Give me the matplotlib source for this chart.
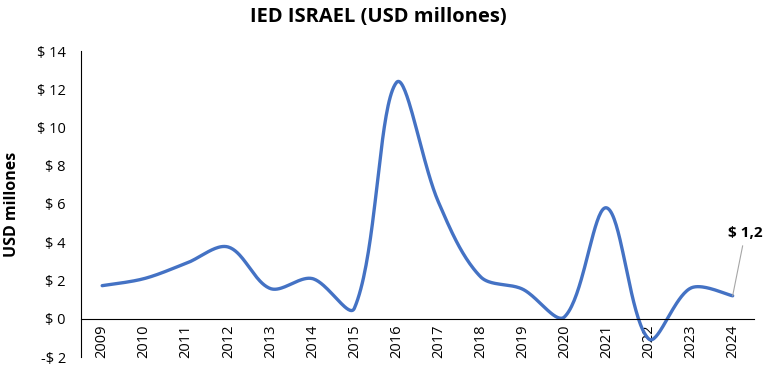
import matplotlib
matplotlib.use("Agg")
import matplotlib.pyplot as plt
import numpy as np

plt.rcParams['font.family'] = ['Open Sans', 'DejaVu Sans']

# IED Israel, USD millones
years = ["2009", "2010", "2011", "2012", "2013", "2014", "2015", "2016",
         "2017", "2018", "2019", "2020", "2021", "2022", "2023", "2024"]
ied = [1.73, 2.1, 2.9, 3.75, 1.58, 2.1, 0.55, 12.35,
       6.1, 2.2, 1.55, 0.1, 5.8, -1.05, 1.6, 1.2]
yticks = [-2, 0, 2, 4, 6, 8, 10, 12, 14]


def smooth(xs, ys, sx=42.0, sy=19.1, n=40):
    # Excel-like smoothed line: bezier with tangents scaled by segment length
    xs = np.asarray(xs, float)
    ys = np.asarray(ys, float)
    m = len(xs)
    d = np.hypot(np.diff(xs) * sx, np.diff(ys) * sy)
    cin, cout = [], []
    for i in range(m):
        a = max(i - 1, 0)
        b = min(i + 1, m - 1)
        tx, ty = xs[b] - xs[a], ys[b] - ys[a]
        dl = d[i - 1] if i > 0 else 0.0
        dr = d[i] if i < m - 1 else 0.0
        tot = dl + dr if dl + dr > 0 else 1.0
        if i == 0 or i == m - 1:
            fl = fr = 1 / 6
        else:
            fl, fr = dl / tot / 3, dr / tot / 3
        cin.append((xs[i] - tx * fl, ys[i] - ty * fl))
        cout.append((xs[i] + tx * fr, ys[i] + ty * fr))
    t = np.linspace(0, 1, n)
    ox, oy = [], []
    for i in range(m - 1):
        x0, y0 = xs[i], ys[i]
        x1, y1 = cout[i]
        x2, y2 = cin[i + 1]
        x3, y3 = xs[i + 1], ys[i + 1]
        ox.extend((1-t)**3*x0 + 3*(1-t)**2*t*x1 + 3*(1-t)*t**2*x2 + t**3*x3)
        oy.extend((1-t)**3*y0 + 3*(1-t)**2*t*y1 + 3*(1-t)*t**2*y2 + t**3*y3)
    return ox, oy


fig = plt.figure(figsize=(7.73, 3.75), dpi=100)
ax = fig.add_axes([0.105, 0.048, 0.87, 0.816])

ax.spines['top'].set_visible(False)
ax.spines['right'].set_visible(False)
ax.spines['bottom'].set_position(('data', 0))

x = np.arange(len(years))
cx, cy = smooth(x, ied)
ax.plot(cx, cy, color="#4472C4", lw=2.4, solid_capstyle="round")

ax.set_xlim(-0.5, len(years) - 0.5)
ax.set_ylim(-2, 14)
ax.set_yticks(yticks)
ax.set_yticklabels([("-$ %d" % -v) if v < 0 else ("$ %d" % v) for v in yticks],
                   fontsize=10.5)
ax.set_xticks(x)
ax.set_xticklabels(years, fontsize=10.5)
ax.tick_params(axis='x', labelrotation=90, length=0, pad=4)
ax.tick_params(axis='y', length=0, pad=11)

ax.set_ylabel("USD millones", fontsize=11.5, fontweight='bold', labelpad=12)
fig.text(0.49, 0.955, "IED ISRAEL (USD millones)", fontsize=14.5,
         fontweight='bold', ha='center', va='center')

ax.annotate("$ 1,2", xy=(x[-1], ied[-1]), xytext=(9, 40),
            textcoords='offset points', fontsize=11, fontweight='bold',
            ha='center', va='bottom',
            arrowprops=dict(arrowstyle='-', color='#A6A6A6', lw=0.8,
                            shrinkA=2, shrinkB=0))

fig.savefig("out.png", dpi=100)
